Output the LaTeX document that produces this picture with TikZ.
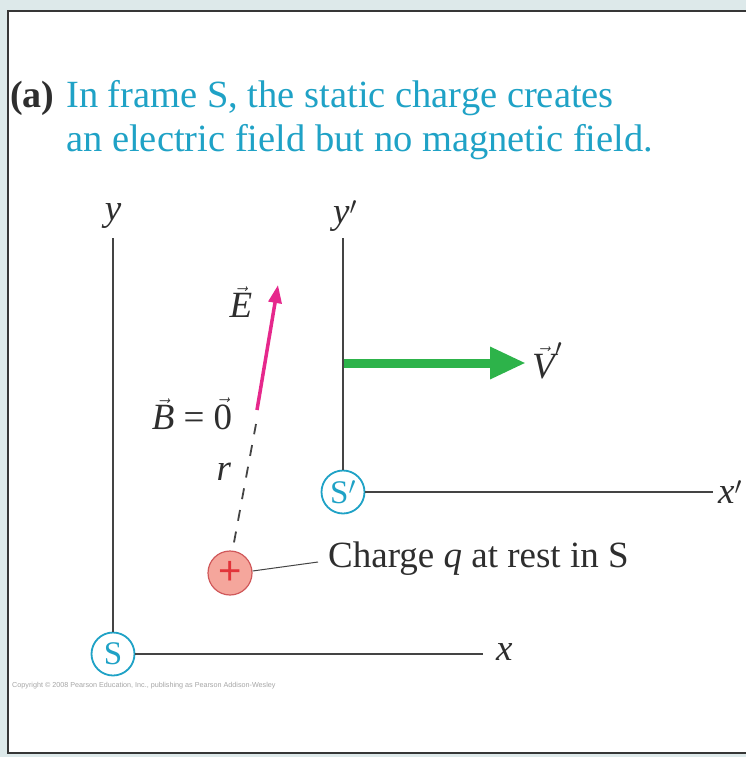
\documentclass[tikz,border=0pt]{standalone}
\usepackage{fontspec}
\setmainfont{Liberation Serif}
\newfontfamily\notefont{Liberation Sans}
\usetikzlibrary{arrows.meta}
\definecolor{bgtint}{HTML}{DDE9EA}
\definecolor{framecyan}{HTML}{1FA2C6}
\definecolor{axisgray}{HTML}{444444}
\definecolor{inkgray}{HTML}{2E2E2E}
\definecolor{vgreen}{HTML}{2DB34A}
\definecolor{emag}{HTML}{E6288C}
\definecolor{qfill}{HTML}{F5A69C}
\definecolor{qedge}{HTML}{D0585A}
\definecolor{qplus}{HTML}{E2343A}
\newcommand{\vsym}[1]{\textit{#1}}

\begin{document}
\begin{tikzpicture}[x=1pt, y=-1pt,
    axis/.style={axisgray, line width=1.8pt},
    origin/.style={circle, draw=framecyan, line width=1.8pt, fill=white,
      minimum size=43pt, inner sep=0pt, text=framecyan, font=\fontsize{33}{33}\selectfont},
    lbl/.style={inner sep=0pt, text=inkgray, font=\fontsize{37}{37}\selectfont}]
    \useasboundingbox (0,0) rectangle (746,757);
    % backdrop and panel
    \fill[bgtint] (0,0) rectangle (746,757);
    \draw[fill=white, line width=2.2pt, draw=axisgray!80!black] (8,11) rectangle (760,753);
    % caption
    \node[anchor=base west, inner sep=0pt, text=inkgray, font=\fontsize{38}{38}\selectfont\bfseries] (tag) at (10,107) {(a)};
    \node[anchor=base west, inner sep=0pt, text=framecyan, font=\fontsize{38.5}{38}\selectfont] (cap1) at (66,107) {In frame S, the static charge creates};
    \node[anchor=base west, inner sep=0pt, text=framecyan, font=\fontsize{38.5}{38}\selectfont] (cap2) at (66,151) {an electric field but no magnetic field.};
    % frame S
    \node[origin] (S) at (113,654) {S};
    \coordinate (ytop) at (113,238);
    \coordinate (xend) at (483,654);
    \draw[axis] (S) -- (ytop);
    \draw[axis] (S) -- (xend);
    \node[lbl] (ylab) at (113,216) {\vsym{y}};
    \node[lbl, anchor=west] (xlab) at (496,652) {\vsym{x}};
    % frame S'
    \node[origin] (Sp) at (343,492) {S$'$};
    \coordinate (yptop) at (343,238);
    \coordinate (xpend) at (713,492);
    \draw[axis] (Sp) -- (yptop);
    \draw[axis] (Sp) -- (xpend);
    \node[lbl] (yplab) at (345,216) {\vsym{y}$'$};
    \node[lbl, anchor=west] (xplab) at (718,492) {\vsym{x}$'$};
    % velocity of S'
    \coordinate (vstart) at (344,363);
    \coordinate (vtip) at (526,363);
    \draw[vgreen, line width=9pt, -{Triangle[length=36pt, width=30pt]}] (vstart) -- (vtip);
    \node[lbl, anchor=west] (vlab) at (532,361) {$\vec{\vsym{V}}'$};
    % the charge and its field
    \node[circle, draw=qedge, line width=1.2pt, fill=qfill, minimum size=44pt, inner sep=0pt,
      text=qplus, font=\notefont\fontsize{40}{40}\selectfont] (q) at (230,573) {+};
    \coordinate (rtop) at (256,424);
    \coordinate (etail) at (257,410);
    \coordinate (etip) at (278,285);
    \draw[axisgray, line width=1.8pt, dash pattern=on 11pt off 11pt] (q.north) ++(4,-8) -- (rtop);
    \draw[emag, line width=3.5pt, -{Triangle[length=18pt, width=13pt]}] (etail) -- (etip);
    \node[lbl] (elab) at (241,302) {$\vec{\vsym{E}}$};
    \node[lbl] (blab) at (192,414) {$\vec{\vsym{B}}\textrm{ = }\vec{\textrm{0}}$};
    \node[lbl] (rlab) at (224,472) {\vsym{r}};
    \node[lbl, anchor=west] (qlab) at (328,559) {Charge \vsym{q} at rest in S};
    \coordinate (qlead) at (318,562);
    \draw[axisgray, line width=1pt] (q.east) ++(0,-2) -- (qlead);
    % credit line
    \node[anchor=west, inner sep=0pt, text=gray!70, font=\notefont\fontsize{7.2}{8}\selectfont] (credit) at (12,686)
      {Copyright \textcopyright{} 2008 Pearson Education, Inc., publishing as Pearson Addison-Wesley};
\end{tikzpicture}
\end{document}
